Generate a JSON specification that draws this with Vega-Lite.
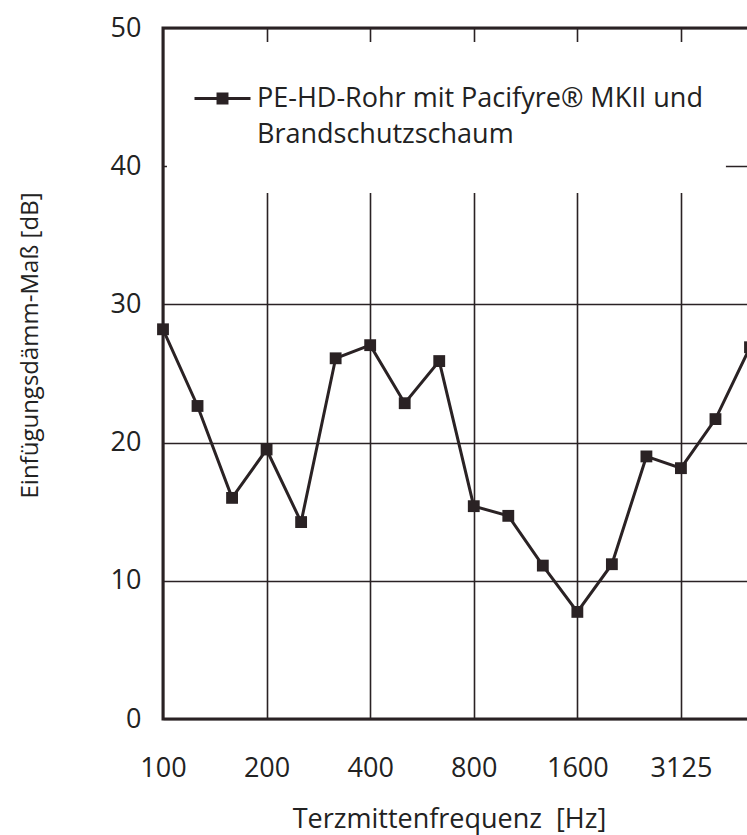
{
  "$schema": "https://vega.github.io/schema/vega-lite/v6.json",
  "width": 587,
  "height": 691,
  "autosize": {"type": "none"},
  "padding": {"left": 163, "top": 28, "right": 0, "bottom": 116},
  "background": "white",
  "config": {
    "view": {"stroke": "#2a2224", "strokeWidth": 3},
    "font": "Open Sans",
    "style": {"guide-label": {"lineHeight": 36}}
  },
  "data": {
    "values": [
      {"band": 0, "f": 100, "dB": 28.2, "s": "PE"},
      {"band": 1, "f": 125, "dB": 22.65, "s": "PE"},
      {"band": 2, "f": 160, "dB": 16.0, "s": "PE"},
      {"band": 3, "f": 200, "dB": 19.5, "s": "PE"},
      {"band": 4, "f": 250, "dB": 14.25, "s": "PE"},
      {"band": 5, "f": 315, "dB": 26.1, "s": "PE"},
      {"band": 6, "f": 400, "dB": 27.05, "s": "PE"},
      {"band": 7, "f": 500, "dB": 22.85, "s": "PE"},
      {"band": 8, "f": 630, "dB": 25.9, "s": "PE"},
      {"band": 9, "f": 800, "dB": 15.4, "s": "PE"},
      {"band": 10, "f": 1000, "dB": 14.7, "s": "PE"},
      {"band": 11, "f": 1250, "dB": 11.1, "s": "PE"},
      {"band": 12, "f": 1600, "dB": 7.75, "s": "PE"},
      {"band": 13, "f": 2000, "dB": 11.2, "s": "PE"},
      {"band": 14, "f": 2500, "dB": 19.0, "s": "PE"},
      {"band": 15, "f": 3150, "dB": 18.15, "s": "PE"},
      {"band": 16, "f": 4000, "dB": 21.7, "s": "PE"},
      {"band": 17, "f": 5000, "dB": 26.9, "s": "PE"}
    ]
  },
  "layer": [
    {
      "mark": {"type": "rect", "fill": "white", "stroke": null},
      "encoding": {
        "x": {"datum": 0.12, "type": "quantitative"},
        "x2": {"datum": 16.28},
        "y": {"datum": 38.06, "type": "quantitative"},
        "y2": {"datum": 48.99}
      }
    },
    {
      "mark": {
        "type": "line",
        "strokeWidth": 3,
        "clip": false,
        "point": {"shape": "square", "size": 140, "filled": true, "color": "#2a2224", "opacity": 1}
      },
      "encoding": {
        "x": {"field": "band", "type": "quantitative"},
        "y": {"field": "dB", "type": "quantitative"},
        "color": {
          "field": "s",
          "type": "nominal",
          "scale": {"range": ["#2a2224"]},
          "legend": {
            "orient": "none",
            "legendX": 30,
            "legendY": 41,
            "title": null,
            "padding": 0,
            "symbolType": "M-1,0H1M-0.16,-0.16H0.16V0.16H-0.16Z",
            "symbolSize": 3136,
            "symbolStrokeWidth": 3,
            "symbolFillColor": "#2a2224",
            "symbolStrokeColor": "#2a2224",
            "symbolOpacity": 1,
            "labelExpr": "['PE-HD-Rohr mit Pacifyre® MKII und', 'Brandschutzschaum']",
            "labelLimit": 700,
            "labelFontSize": 27,
            "labelColor": "#222",
            "labelOffset": 5
          }
        }
      }
    }
  ],
  "encoding": {
    "x": {
      "type": "quantitative",
      "scale": {"domain": [0, 17], "nice": false, "zero": false},
      "axis": {
        "values": [0, 3, 6, 9, 12, 15],
        "labelExpr": "datum.value==0?'100':datum.value==3?'200':datum.value==6?'400':datum.value==9?'800':datum.value==12?'1600':'3125'",
        "grid": true,
        "gridColor": "#2a2224",
        "gridWidth": 1.6,
        "gridOpacity": 1,
        "ticks": false,
        "domain": false,
        "labelFontSize": 27,
        "labelColor": "#222",
        "labelPadding": 36,
        "labelFlush": false,
        "title": "Terzmittenfrequenz\u00a0 [Hz]",
        "titleFontSize": 27,
        "titleFontWeight": "normal",
        "titleColor": "#222",
        "titleX": 286,
        "titleY": 108,
        "titleBaseline": "alphabetic"
      }
    },
    "y": {
      "type": "quantitative",
      "scale": {"domain": [0, 50], "nice": false},
      "axis": {
        "values": [0, 10, 20, 30, 40, 50],
        "grid": true,
        "gridColor": "#2a2224",
        "gridWidth": 1.6,
        "gridOpacity": 1,
        "ticks": false,
        "domain": false,
        "labelFontSize": 27,
        "labelColor": "#222",
        "labelPadding": 22,
        "title": "Einfügungsdämm-Maß [dB]",
        "titleFontSize": 24,
        "titleFontWeight": "normal",
        "titleColor": "#222",
        "titleX": -133,
        "titleY": 317,
        "titleBaseline": "middle"
      }
    }
  }
}
